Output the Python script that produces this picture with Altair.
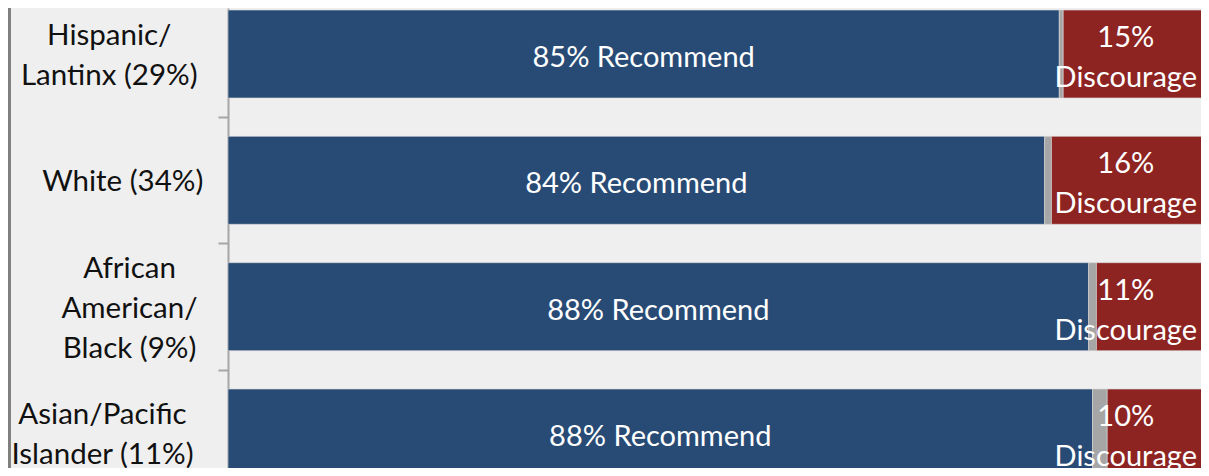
import altair as alt
import pandas as pd

categories = ["Hispanic/\nLantinx (29%)", "White (34%)", "African\nAmerican/\nBlack (9%)", "Asian/Pacific\nIslander (11%)"]
recommend = [85.0, 83.5, 88.0, 88.4]
neutral = [0.4, 0.7, 0.8, 1.5]
discourage = [14.6, 15.8, 11.2, 10.1]

rows = []
labels = []
for i, cat in enumerate(categories):
    r, n, d = recommend[i], neutral[i], discourage[i]
    rows.append({"idx": i, "seg": "Recommend", "x0": 0, "x1": r,
                 "txt": f"{round(r)}% Recommend"})
    rows.append({"idx": i, "seg": "Neutral", "x0": r, "x1": r + n, "txt": ""})
    rows.append({"idx": i, "seg": "Discourage", "x0": r + n, "x1": r + n + d,
                 "txt": f"{round(d)}%\nDiscourage"})
    parts = cat.split("\n")
    labels.append({"idx": i, "label": cat,
                   "longest": max(len(s) for s in parts), "nlines": len(parts)})

df = pd.DataFrame(rows)
lab = pd.DataFrame(labels)
df["nlines"] = df["txt"].str.count("\n") + 1

FONT = "Lato"
BG = "#EFEFEF"
PLOT_W, PLOT_H = 973, 460
PX_PER_PCT = 9.78
PX_PER_ROW = 126.34
LH = 40

ydom = [-0.364, -0.364 + PLOT_H / PX_PER_ROW]
yscale = alt.Scale(domain=ydom, reverse=True, nice=False, zero=False)
xscale = alt.Scale(domain=[0, PLOT_W / PX_PER_PCT], nice=False, zero=False)

base = alt.Chart(df).transform_calculate(
    ya="datum.idx - 0.348", yb="datum.idx + 0.348"
)

bars = base.mark_bar(clip=True, stroke="#D8D8D8", strokeWidth=0.6).encode(
    x=alt.X("x0:Q", scale=xscale, axis=None),
    x2="x1:Q",
    y=alt.Y("ya:Q", scale=yscale, axis=alt.Axis(
        values=[0.5, 1.5, 2.5], labels=False, title=None, grid=False,
        tickSize=10, tickColor="#A6A6A6", tickWidth=2,
        domainColor="#A6A6A6", domainWidth=2)),
    y2="yb:Q",
    color=alt.Color("seg:N", scale=alt.Scale(
        domain=["Recommend", "Neutral", "Discourage"],
        range=["#284B75", "#A6A6A6", "#8E2422"]), legend=None),
)

texts = base.transform_filter("datum.txt != ''").transform_calculate(
    xm="datum.seg == 'Discourage' ? min((datum.x0 + datum.x1) / 2, 91.8) : (datum.x0 + datum.x1) / 2",
    yt=f"datum.idx - (datum.nlines - 1) * {LH / 2} / {PX_PER_ROW}",
).mark_text(font=FONT, fontSize=29, color="white", lineBreak="\n",
            lineHeight=LH, baseline="middle", align="center", dy=4).encode(
    x=alt.X("xm:Q", scale=xscale),
    y=alt.Y("yt:Q", scale=yscale),
    text="txt:N",
)

cat_text = alt.Chart(lab).transform_calculate(
    px="-31 - datum.longest * 6.75",
    yt=f"datum.idx - (datum.nlines - 1) * {LH / 2} / {PX_PER_ROW}",
).mark_text(font=FONT, fontSize=29.5, color="#111111", lineBreak="\n",
            lineHeight=LH, baseline="middle", align="center", dy=2).encode(
    x=alt.X("px:Q", scale=None),
    y=alt.Y("yt:Q", scale=yscale),
    text="label:N",
)

frame = alt.Chart(lab).mark_rule(color="#7F7F7F", strokeWidth=3).encode(
    x=alt.value(-219), y=alt.value(0), y2=alt.value(PLOT_H)
)

chart = alt.layer(bars, texts, cat_text, frame).properties(
    width=PLOT_W, height=PLOT_H,
    padding={"left": 220, "top": 0, "right": 0, "bottom": 0},
    autosize=alt.AutoSizeParams(type="none"),
    background=BG,
).configure_view(stroke=None, fill=BG)

chart.save("out.html", embed_options={"renderer": "svg", "actions": False})
